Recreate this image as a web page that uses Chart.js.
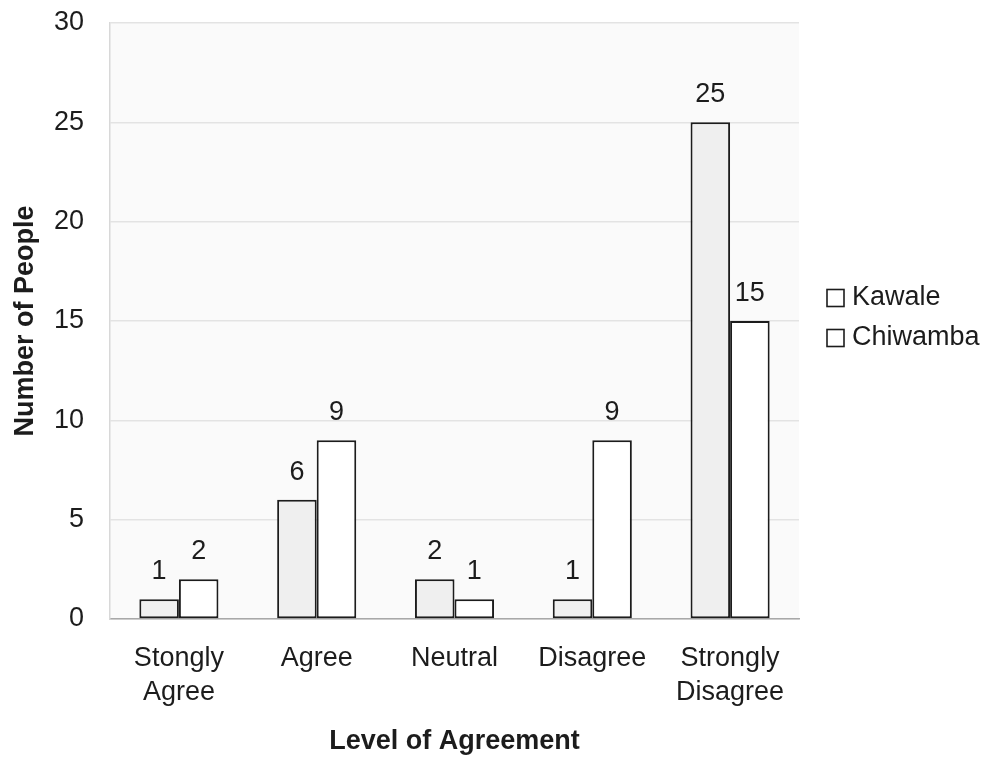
<!DOCTYPE html>
<html>
<head>
<meta charset="utf-8">
<title>Level of Agreement</title>
<script src="https://cdn.jsdelivr.net/npm/chart.js@4.4.1/dist/chart.umd.min.js"></script>
<style>
  html, body { margin: 0; padding: 0; background: #ffffff; }
  #wrap { width: 996px; height: 758px; }
</style>
</head>
<body>
<div id="wrap"><canvas id="chart" width="996" height="758"></canvas></div>
<script>
// Survey responses per village
const categories = [["Stongly", "Agree"], "Agree", "Neutral", "Disagree", ["Strongly", "Disagree"]];
const seriesNames = ["Kawale", "Chiwamba"];
const kawale = [1, 6, 2, 1, 25];
const chiwamba = [2, 9, 1, 9, 15];
const yTicks = [0, 5, 10, 15, 20, 25, 30];

const FONT = "'Liberation Sans', Arial, Helvetica, sans-serif";
const INK = '#1c1c1c';

// Light plot background behind the bars
const plotBackground = {
  id: 'plotBackground',
  beforeDraw(chart) {
    const { ctx, chartArea: a } = chart;
    ctx.save();
    ctx.fillStyle = '#fafafa';
    ctx.fillRect(a.left, a.top, a.right - a.left, a.bottom - a.top);
    ctx.restore();
  }
};

// Value printed above each bar
const valueLabels = {
  id: 'valueLabels',
  afterDatasetsDraw(chart) {
    const { ctx } = chart;
    ctx.save();
    ctx.font = '27px ' + FONT;
    ctx.fillStyle = INK;
    ctx.textAlign = 'center';
    ctx.textBaseline = 'alphabetic';
    chart.data.datasets.forEach((ds, di) => {
      chart.getDatasetMeta(di).data.forEach((el, i) => {
        ctx.fillText(String(ds.data[i]), el.x, el.y - 20);
      });
    });
    ctx.restore();
  }
};

// Legend to the right of the plot
const sideLegend = {
  id: 'sideLegend',
  afterDraw(chart) {
    const { ctx } = chart;
    const x0 = 827, size = 17, rows = [298, 338];
    ctx.save();
    ctx.font = '27px ' + FONT;
    ctx.textBaseline = 'middle';
    ctx.textAlign = 'left';
    chart.data.datasets.forEach((ds, i) => {
      const cy = rows[i];
      ctx.fillStyle = '#ffffff';
      ctx.fillRect(x0, cy - size / 2, size, size);
      ctx.strokeStyle = INK;
      ctx.lineWidth = 1.6;
      ctx.strokeRect(x0, cy - size / 2, size, size);
      ctx.fillStyle = INK;
      ctx.fillText(ds.label, x0 + 25, cy);
    });
    ctx.restore();
  }
};

new Chart(document.getElementById('chart'), {
  type: 'bar',
  data: {
    labels: categories,
    datasets: [
      {
        label: seriesNames[0],
        data: kawale,
        backgroundColor: '#efefef',
        borderColor: INK,
        borderWidth: 2,
        borderSkipped: false,
        barPercentage: 1,
        categoryPercentage: 0.574
      },
      {
        label: seriesNames[1],
        data: chiwamba,
        backgroundColor: '#ffffff',
        borderColor: INK,
        borderWidth: 2,
        borderSkipped: false,
        barPercentage: 1,
        categoryPercentage: 0.574
      }
    ]
  },
  options: {
    responsive: false,
    animation: false,
    layout: { padding: { top: 23, right: 197, bottom: 0, left: 0 } },
    plugins: {
      legend: { display: false },
      tooltip: { enabled: false }
    },
    scales: {
      x: {
        grid: { display: false, drawTicks: false },
        border: { display: true, color: '#a8a8a8', width: 1.5 },
        ticks: {
          color: INK,
          padding: 23,
          maxRotation: 0,
          autoSkip: false,
          font: { family: FONT, size: 27, lineHeight: 1.26 }
        },
        title: {
          display: true,
          text: 'Level of Agreement',
          color: INK,
          padding: { top: 0, bottom: 0 },
          font: { family: FONT, size: 27, weight: 'bold', lineHeight: 1.2 }
        },
        afterFit(scale) { scale.height = 139; }
      },
      y: {
        min: 0,
        max: 30,
        afterBuildTicks(scale) { scale.ticks = yTicks.map(v => ({ value: v })); },
        grid: { color: '#e3e3e3', lineWidth: 1.5, drawTicks: false },
        border: { display: true, color: '#d8d8d8', width: 1.5 },
        ticks: {
          color: INK,
          padding: 26,
          font: { family: FONT, size: 27 }
        },
        title: {
          display: true,
          text: 'Number of People',
          color: INK,
          padding: { top: 9, bottom: 0 },
          font: { family: FONT, size: 27, weight: 'bold', lineHeight: 1.2 }
        },
        afterFit(scale) {
          scale.width = 110;
          // plot top is set by the layout padding alone
          scale.paddingTop = 0;
          scale.paddingBottom = 0;
        }
      }
    }
  },
  plugins: [plotBackground, valueLabels, sideLegend]
});
</script>
</body>
</html>
